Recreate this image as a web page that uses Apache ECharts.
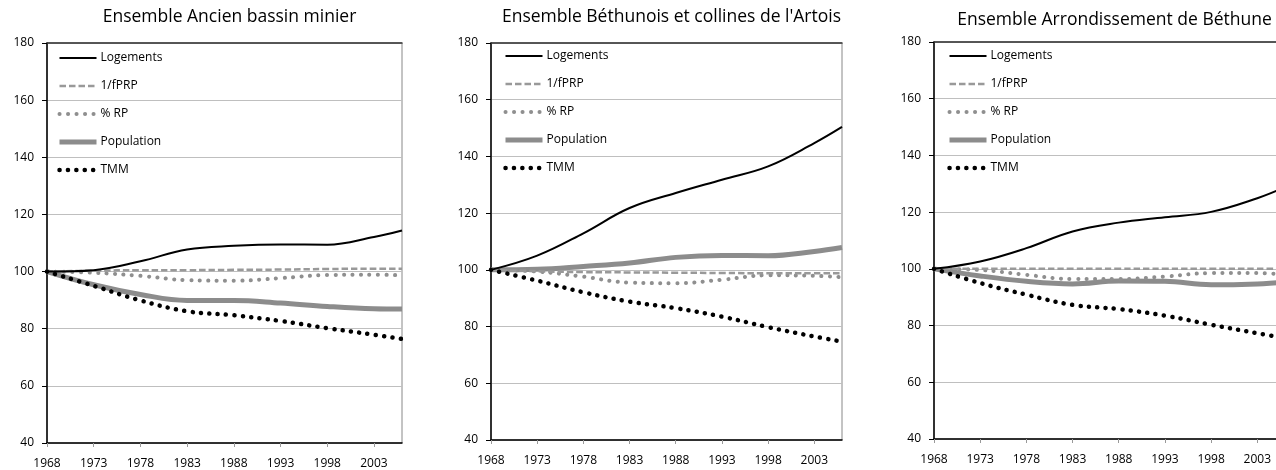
<!DOCTYPE html>
<html>
<head>
<meta charset="utf-8">
<script src="https://cdn.jsdelivr.net/npm/echarts@6/dist/echarts.min.js"></script>
<style>
  html, body { margin: 0; padding: 0; overflow: hidden; background: #fff; }
  #chart { width: 1290px; height: 470px; }
</style>
</head>
<body>
<div id="chart"></div>
<script>
const YEARS = [1968, 1973, 1978, 1983, 1988, 1993, 1998, 2003, 2006]
const SERIES_NAMES = ['Logements', '1/fPRP', '% RP', 'Population', 'TMM']
const TITLES = [
  'Ensemble Ancien bassin minier',
  "Ensemble Béthunois et collines de l'Artois",
  'Ensemble Arrondissement de Béthune'
]

// Ancien bassin minier
const minierLogements = [100, 100.5, 103.6, 107.7, 109.0, 109.5, 109.4, 112.1, 114.4]
const minierFprp = [100, 100.3, 100.5, 100.5, 100.6, 100.7, 100.9, 101.0, 101.0]
const minierRp = [100, 99.6, 98.5, 97.0, 96.8, 97.7, 98.8, 98.9, 98.7]
const minierPopulation = [100, 95.4, 92.0, 89.9, 89.9, 89.0, 87.8, 87.0, 86.9]
const minierTmm = [100, 95.0, 89.9, 86.1, 84.7, 82.7, 80.2, 77.9, 76.4]

// Béthunois et collines de l'Artois
const artoisLogements = [100, 105.0, 112.9, 121.8, 127.1, 131.8, 136.5, 144.7, 150.4]
const artoisFprp = [100, 99.5, 99.2, 99.1, 99.0, 98.9, 98.8, 98.8, 98.8]
const artoisRp = [100, 99.4, 97.6, 95.5, 95.3, 96.5, 98.1, 97.9, 97.4]
const artoisPopulation = [100, 100.2, 101.2, 102.4, 104.4, 105.1, 105.0, 106.5, 107.9]
const artoisTmm = [100, 96.2, 92.1, 88.8, 86.5, 83.5, 79.8, 76.5, 74.7]

// Arrondissement de Béthune
const bethuneLogements = [100, 102.6, 107.3, 113.2, 116.3, 118.2, 120.1, 124.9, 128.8]
const bethuneFprp = [100, 100, 100, 100, 100, 100, 100, 100, 100]
const bethuneRp = [100, 99.6, 97.9, 96.4, 96.4, 97.3, 98.5, 98.5, 98.0]
const bethunePopulation = [100, 97.5, 95.6, 94.7, 95.7, 95.6, 94.4, 94.7, 95.3]
const bethuneTmm = [100, 95.0, 90.9, 87.3, 85.8, 83.5, 80.3, 77.3, 75.6]

const PANELS = [
  [minierLogements, minierFprp, minierRp, minierPopulation, minierTmm],
  [artoisLogements, artoisFprp, artoisRp, artoisPopulation, artoisTmm],
  [bethuneLogements, bethuneFprp, bethuneRp, bethunePopulation, bethuneTmm]
]

const FONT = 'Open Sans'
const GRIDS = [
  { left: 47, top: 43, width: 355, height: 400 },
  { left: 491, top: 43, width: 351, height: 397 },
  { left: 934, top: 42, width: 351, height: 397 }
]
const LEGEND_POS = [
  { left: 57, top: 52 },
  { left: 503, top: 50 },
  { left: 947, top: 50 }
]

const LINE_STYLES = [
  { color: '#000000', width: 2, type: 'solid' },
  { color: '#999999', width: 2.5, type: [6.5, 3] },
  { color: '#8f8f8f', width: 4, type: [0.1, 8.4], cap: 'round' },
  { color: '#8c8c8c', width: 5, type: 'solid' },
  { color: '#000000', width: 4.5, type: [0.1, 8.3], cap: 'round' }
]
const Z_ORDER = [5, 3, 2, 1, 4]

const chart = echarts.init(document.getElementById('chart'))

const xAxis = []
const yAxis = []
const series = []
GRIDS.forEach((g, i) => {
  xAxis.push({
    type: 'value',
    gridIndex: i,
    min: 1968,
    max: 2006,
    interval: 5,
    axisLine: { show: true, lineStyle: { color: '#000', width: 1.5 } },
    axisTick: { show: true, length: 4, lineStyle: { color: '#999' } },
    axisLabel: {
      color: '#000',
      fontFamily: FONT,
      fontSize: 12,
      margin: 15,
      showMaxLabel: false,
      formatter: (v) => String(v)
    },
    splitLine: { show: false }
  })
  // bord haut de la zone de tracé
  xAxis.push({
    type: 'value',
    gridIndex: i,
    position: 'top',
    min: 1968,
    max: 2006,
    axisLine: { show: true, onZero: false, lineStyle: { color: '#333', width: 1.5 } },
    axisTick: { show: false },
    axisLabel: { show: false },
    splitLine: { show: false }
  })
  yAxis.push({
    type: 'value',
    gridIndex: i,
    min: 40,
    max: 180,
    interval: 20,
    axisLine: { show: true, lineStyle: { color: '#000', width: 1.5 } },
    axisTick: { show: true, length: 5, lineStyle: { color: '#000' } },
    axisLabel: { color: '#000', fontFamily: FONT, fontSize: 12, margin: 13 },
    splitLine: { show: true, lineStyle: { color: '#bfbfbf', width: 1 } }
  })
  PANELS[i].forEach((values, k) => {
    series.push({
      name: SERIES_NAMES[k],
      type: 'line',
      xAxisIndex: i * 2,
      yAxisIndex: i,
      smooth: 0.4,
      symbol: 'none',
      z: Z_ORDER[k],
      silent: true,
      color: LINE_STYLES[k].color,
      lineStyle: LINE_STYLES[k],
      data: YEARS.map((y, j) => [y, values[j]])
    })
  })
})

const option = {
  animation: false,
  title: TITLES.map((t, i) => ({
    text: t,
    left: GRIDS[i].left + GRIDS[i].width / 2,
    top: i === 2 ? 6 : 3,
    textAlign: 'center',
    textStyle: { color: '#000', fontFamily: FONT, fontSize: 17.5, fontWeight: 'normal' }
  })),
  legend: LEGEND_POS.map((p) => ({
    data: SERIES_NAMES,
    orient: 'vertical',
    left: p.left,
    top: p.top,
    padding: 0,
    itemWidth: 37,
    itemHeight: 14,
    itemGap: 16,
    selectedMode: false,
    itemStyle: { opacity: 0 },
    lineStyle: { width: 'inherit' },
    textStyle: { color: '#000', fontFamily: FONT, fontSize: 12, padding: [0, 0, 0, -1] }
  })),
  grid: GRIDS.map((g) => ({ ...g, show: true, borderColor: '#888', borderWidth: 1, backgroundColor: 'transparent' })),
  xAxis,
  yAxis,
  series
}

chart.setOption(option)
window.addEventListener('resize', () => chart.resize())
</script>
</body>
</html>
